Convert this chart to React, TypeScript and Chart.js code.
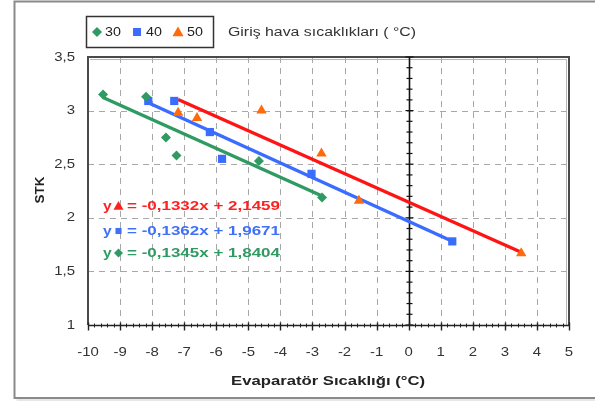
import React, { useEffect, useRef } from "react";
import { Chart, registerables } from "chart.js";
Chart.register(...registerables);

// ---- data ----
const seriesLabels = ["30", "40", "50"];
const series30X = [-9.53, -8.19, -7.57, -7.24, -4.67, -2.7];
const series30Y = [3.15, 3.13, 2.75, 2.58, 2.53, 2.19];
const series40X = [-8.12, -7.31, -6.2, -5.82, -3.03, 1.36];
const series40Y = [3.09, 3.09, 2.8, 2.55, 2.41, 1.78];
const series50X = [-7.19, -6.6, -4.59, -2.72, -1.55, 3.51];
const series50Y = [2.98, 2.93, 3.0, 2.6, 2.16, 1.67];
const trendSlopes = [-0.1345, -0.1362, -0.1332];
const trendIntercepts = [1.8404, 1.9671, 2.1459];
const equationTexts = ["= -0,1345x + 1,8404", "= -0,1362x + 1,9671", "= -0,1332x + 2,1459"];
const xTickValues = [-10, -9, -8, -7, -6, -5, -4, -3, -2, -1, 0, 1, 2, 3, 4, 5];
const yTickValues = [1, 1.5, 2, 2.5, 3, 3.5];
const yTickLabels = ["1", "1,5", "2", "2,5", "3", "3,5"];
const legendTitle = "Giriş hava sıcaklıkları ( °C)";
const xTitle = "Evaparatör Sıcaklığı (°C)";
const yTitle = "STK";

// ---- styles ----
const GREEN = "#2f9a62";
const BLUE = "#3a6cff";
const ORANGE = "#ff6a0a";
const RED = "#ff1414";
const MARKER_COLORS = [GREEN, BLUE, ORANGE];
const LINE_COLORS = [GREEN, BLUE, RED];
const EQ_COLORS = ["#2f9a62", "#3f70f5", "#ff2020"];
const STYLES = ["rectRot", "rect", "triangle"];
const W = 595, H = 402;

function drawMarker(ctx: CanvasRenderingContext2D, style: string, x: number, y: number, color: string, r: number) {
  ctx.save();
  ctx.fillStyle = color;
  ctx.beginPath();
  if (style === "rectRot") {
    ctx.moveTo(x, y - r); ctx.lineTo(x + r, y); ctx.lineTo(x, y + r); ctx.lineTo(x - r, y); ctx.closePath();
  } else if (style === "rect") {
    ctx.rect(x - r * 0.8, y - r * 0.8, r * 1.6, r * 1.6);
  } else {
    ctx.moveTo(x, y - r); ctx.lineTo(x + r, y + r * 0.75); ctx.lineTo(x - r, y + r * 0.75); ctx.closePath();
  }
  ctx.fill();
  ctx.restore();
}

function txt(ctx: CanvasRenderingContext2D, text: string, x: number, y: number, font: string, color: string,
  align: "left" | "center" | "right", sx: number, width?: number) {
  ctx.save();
  ctx.font = font;
  ctx.fillStyle = color;
  ctx.textBaseline = "middle";
  ctx.textAlign = "left";
  const mw = ctx.measureText(text).width;
  const scale = width ? width / mw : sx;
  const tw = mw * scale;
  const x0 = align === "left" ? x : align === "center" ? x - tw / 2 : x - tw;
  ctx.translate(x0, y);
  ctx.scale(scale, 1);
  ctx.fillText(text, 0, 0);
  ctx.restore();
}

const decorPlugin = {
  id: "decor",
  beforeDraw(chart: any) {
    const ctx = chart.ctx as CanvasRenderingContext2D;
    ctx.save();
    ctx.fillStyle = "#fff";
    ctx.fillRect(0, 0, W, H);
    // outer frame
    ctx.strokeStyle = "#8a8a8a";
    ctx.lineWidth = 2;
    ctx.beginPath();
    ctx.moveTo(W, 1.5); ctx.lineTo(14.5, 1.5); ctx.lineTo(14.5, 398); ctx.lineTo(W, 398);
    ctx.stroke();
    ctx.strokeStyle = "#d0d0d0";
    ctx.lineWidth = 1;
    ctx.beginPath();
    ctx.moveTo(16.5, 400); ctx.lineTo(W, 400);
    ctx.stroke();
    ctx.restore();
  },
  beforeDatasetsDraw(chart: any) {
    const ctx = chart.ctx as CanvasRenderingContext2D;
    const xs = chart.scales.x, ys = chart.scales.y;
    const { left, right, top, bottom } = chart.chartArea;
    ctx.save();
    // grid
    ctx.strokeStyle = "#a8a8a8";
    ctx.lineWidth = 1;
    ctx.setLineDash([6, 5]);
    for (const v of xTickValues) {
      if (v === -10 || v === 0 || v === 5) continue;
      const px = Math.round(xs.getPixelForValue(v)) + 0.5;
      ctx.beginPath(); ctx.moveTo(px, top); ctx.lineTo(px, bottom); ctx.stroke();
    }
    for (const v of yTickValues) {
      if (v === 1 || v === 3.5) continue;
      const py = Math.round(ys.getPixelForValue(v)) + 0.5;
      ctx.beginPath(); ctx.moveTo(left, py); ctx.lineTo(right, py); ctx.stroke();
    }
    ctx.setLineDash([]);
    // plot border (left, top, right)
    ctx.strokeStyle = "#4a4a4a";
    ctx.lineWidth = 2;
    ctx.beginPath();
    ctx.moveTo(left, bottom); ctx.lineTo(left, top); ctx.lineTo(right, top); ctx.lineTo(right, bottom);
    ctx.stroke();
    ctx.strokeStyle = "#b5b5b5";
    ctx.lineWidth = 1;
    ctx.beginPath();
    ctx.moveTo(left + 2, top + 2.5); ctx.lineTo(right - 2.5, top + 2.5); ctx.lineTo(right - 2.5, bottom);
    ctx.stroke();
    // vertical axis at x = 0
    const x0 = Math.round(xs.getPixelForValue(0)) + 0.5;
    ctx.strokeStyle = "#111";
    ctx.lineWidth = 1.6;
    ctx.beginPath(); ctx.moveTo(x0, top); ctx.lineTo(x0, bottom); ctx.stroke();
    ctx.lineWidth = 1.2;
    for (let i = 10; i <= 35; i++) {
      const v = i / 10;
      const py = ys.getPixelForValue(v);
      const len = i % 5 === 0 ? 4 : 3;
      ctx.beginPath(); ctx.moveTo(x0 - len, py); ctx.lineTo(x0 + len, py); ctx.stroke();
    }
    // horizontal axis at bottom
    const yb = Math.round(bottom) + 0.5;
    ctx.strokeStyle = "#222";
    ctx.lineWidth = 1.6;
    ctx.beginPath(); ctx.moveTo(left, yb); ctx.lineTo(right, yb); ctx.stroke();
    ctx.lineWidth = 1;
    for (let i = -50; i <= 25; i++) {
      const v = i / 5;
      const px = Math.round(xs.getPixelForValue(v)) + 0.5;
      if (i % 5 === 0) {
        ctx.lineWidth = 1.4;
        ctx.beginPath(); ctx.moveTo(px, yb - 3); ctx.lineTo(px, yb + 5); ctx.stroke();
        ctx.lineWidth = 1;
      } else {
        ctx.beginPath(); ctx.moveTo(px, yb - 2); ctx.lineTo(px, yb + 2); ctx.stroke();
      }
    }
    ctx.restore();
  },
  afterDatasetsDraw(chart: any) {
    const ctx = chart.ctx as CanvasRenderingContext2D;
    const xs = chart.scales.x, ys = chart.scales.y;
    const tickFont = "13px 'Liberation Sans', Arial, sans-serif";
    // tick labels
    yTickValues.forEach((v, i) => {
      txt(ctx, yTickLabels[i], 75, ys.getPixelForValue(v), tickFont, "#333", "right", 1.15);
    });
    xTickValues.forEach((v) => {
      txt(ctx, String(v), xs.getPixelForValue(v), 352, tickFont, "#333", "center", 1.15);
    });
    // axis titles
    const boldFont = "bold 13px 'Liberation Sans', Arial, sans-serif";
    txt(ctx, xTitle, 328, 381, boldFont, "#222", "center", 1, 194);
    ctx.save();
    ctx.translate(40, 190);
    ctx.rotate(-Math.PI / 2);
    txt(ctx, yTitle, 0, 0, boldFont, "#222", "center", 1, 27);
    ctx.restore();
    // legend box
    ctx.save();
    ctx.strokeStyle = "#333";
    ctx.lineWidth = 1.5;
    ctx.strokeRect(86.5, 16.5, 127, 31);
    ctx.restore();
    const legX = [97, 137, 178];
    const legTextX = [105, 146, 187];
    seriesLabels.forEach((lab, i) => {
      drawMarker(ctx, STYLES[i], legX[i], 32, MARKER_COLORS[i], i === 2 ? 5.5 : 5);
      txt(ctx, lab, legTextX[i], 32, tickFont, "#222", "left", 1.1);
    });
    txt(ctx, legendTitle, 228, 33, "12px 'Liberation Sans', Arial, sans-serif", "#333", "left", 1, 188);
    // equations
    const eqY = [253, 231, 206];
    const eqFont = "bold 13px 'Liberation Sans', Arial, sans-serif";
    [2, 1, 0].forEach((i) => {
      txt(ctx, "y", 103, eqY[i], eqFont, EQ_COLORS[i], "left", 1.2);
      drawMarker(ctx, STYLES[i], 118.5, eqY[i], EQ_COLORS[i], i === 1 ? 3.8 : i === 2 ? 5 : 4.5);
      txt(ctx, equationTexts[i], 127, eqY[i], eqFont, EQ_COLORS[i], "left", 1, 153);
    });
  },
};

function trendPoints(xsArr: number[], k: number) {
  const lo = Math.min(...xsArr), hi = Math.max(...xsArr);
  return [lo, hi].map((x) => ({ x, y: trendSlopes[k] * x + trendIntercepts[k] }));
}

export default function App() {
  const ref = useRef<HTMLCanvasElement>(null);
  useEffect(() => {
    const xsAll = [series30X, series40X, series50X];
    const ysAll = [series30Y, series40Y, series50Y];
    const scatterSets = xsAll.map((xa, k) => ({
      type: "scatter" as const,
      label: seriesLabels[k],
      data: xa.map((x, i) => ({ x, y: ysAll[k][i] })),
      pointStyle: STYLES[k],
      pointRadius: k === 0 ? 5 : k === 1 ? 5.8 : 6,
      backgroundColor: MARKER_COLORS[k],
      borderColor: MARKER_COLORS[k],
      borderWidth: 0,
      showLine: false,
      order: 1,
    }));
    const trendSets = xsAll.map((xa, k) => ({
      type: "line" as const,
      label: "trend " + seriesLabels[k],
      data: trendPoints(xa, k),
      borderColor: LINE_COLORS[k],
      borderWidth: 3.4,
      pointRadius: 0,
      fill: false,
      order: 2,
    }));
    const chart = new Chart(ref.current!, {
      type: "scatter",
      data: { datasets: [...trendSets, ...scatterSets] as any },
      options: {
        animation: false,
        responsive: false,
        devicePixelRatio: 1,
        layout: { padding: { left: 88, top: 57, right: 26, bottom: 77 } },
        plugins: { legend: { display: false }, tooltip: { enabled: false } },
        scales: {
          x: { type: "linear", min: -10, max: 5, display: false },
          y: { type: "linear", min: 1, max: 3.5, display: false },
        },
      },
      plugins: [decorPlugin],
    });
    return () => chart.destroy();
  }, []);
  return (
    <div style={{ position: "fixed", left: 0, top: 0, width: W, height: H, background: "#fff" }}>
      <canvas ref={ref} width={W} height={H} style={{ width: W, height: H, display: "block" }} />
    </div>
  );
}
